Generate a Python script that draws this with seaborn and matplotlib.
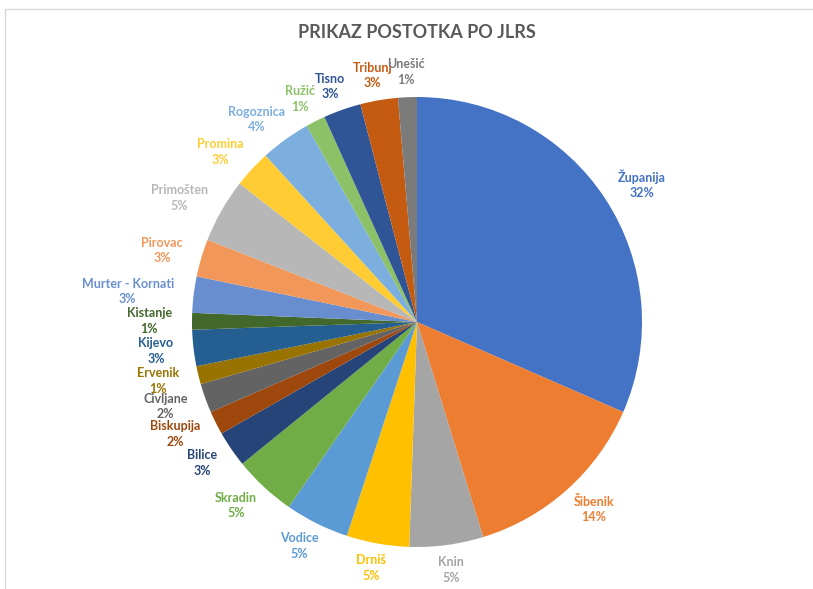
import matplotlib
matplotlib.use("Agg")
import matplotlib.pyplot as plt
import numpy as np
import seaborn as sns

# JLRS share (%), clockwise from 12 o'clock
jlrs = ["Županija", "Šibenik", "Knin", "Drniš", "Vodice", "Skradin", "Bilice",
        "Biskupija", "Civljane", "Ervenik", "Kijevo", "Kistanje", "Murter - Kornati",
        "Pirovac", "Primošten", "Promina", "Rogoznica", "Ružić", "Tisno", "Tribunj", "Unešić"]
share = [31.55, 13.7, 5.3, 4.5, 4.6, 4.5, 2.6,
         1.7, 2.1, 1.3, 2.6, 1.2, 2.6,
         2.7, 4.6, 2.7, 3.6, 1.4, 2.7, 2.7, 1.35]
slice_colors = ["#4472C4", "#ED7D31", "#A5A5A5", "#FFC000", "#5B9BD5", "#70AD47",
                "#264478", "#9E480E", "#636363", "#997300", "#255E91", "#43682B",
                "#698ED0", "#F1975A", "#B7B7B7", "#FFCD33", "#7CAFDD", "#8CC168",
                "#2F5597", "#C55A11", "#7B7B7B"]
title = "PRIKAZ POSTOTKA PO JLRS"

sns.set_style("white")
plt.rcParams["font.family"] = ["Lato", "DejaVu Sans"]

W, H = 813, 589
fig = plt.figure(figsize=(W / 100, H / 100), dpi=100)

# light chart-area frame (only top and left edges are visible)
fig.add_artist(plt.Line2D([5 / W, 1], [1 - 9 / H, 1 - 9 / H], color="#d9d9d9", lw=1))
fig.add_artist(plt.Line2D([5 / W, 5 / W], [0, 1 - 9 / H], color="#d9d9d9", lw=1))

cx, cy, r = 417, 322, 225
ax = fig.add_axes([(cx - r) / W, (H - cy - r) / H, 2 * r / W, 2 * r / H])
wedges, _ = ax.pie(share, colors=slice_colors, startangle=90, counterclock=False,
                   radius=1, wedgeprops=dict(linewidth=0))
ax.set_xlim(-1, 1)
ax.set_ylim(-1, 1)
ax.set_aspect("equal")
ax.axis("off")

fig.canvas.draw()
renderer = fig.canvas.get_renderer()

ax_x, ax_y = 1.09, 1.05  # label gap from the rim, sideways / up-down
for w, name, v, c in zip(wedges, jlrs, share, slice_colors):
    mid = np.deg2rad((w.theta1 + w.theta2) / 2)
    t = ax.text(0, 0, f"{name}\n{int(v + 0.5)}%",
                ha="center", va="center", color=c, fontsize=9, fontweight="bold",
                linespacing=1.35, clip_on=False)
    bb = t.get_window_extent(renderer)
    # push the label box outward so its inner side sits just off the pie
    hw, hh = bb.width / 2 / r, bb.height / 2 / r
    t.set_position(((ax_x + hw) * np.cos(mid), (ax_y + hh) * np.sin(mid)))

fig.text(cx / W, 1 - 33 / H, title, ha="center", va="center",
         fontsize=13, fontweight="bold", color="#595959")

fig.savefig("out.png", dpi=100)
